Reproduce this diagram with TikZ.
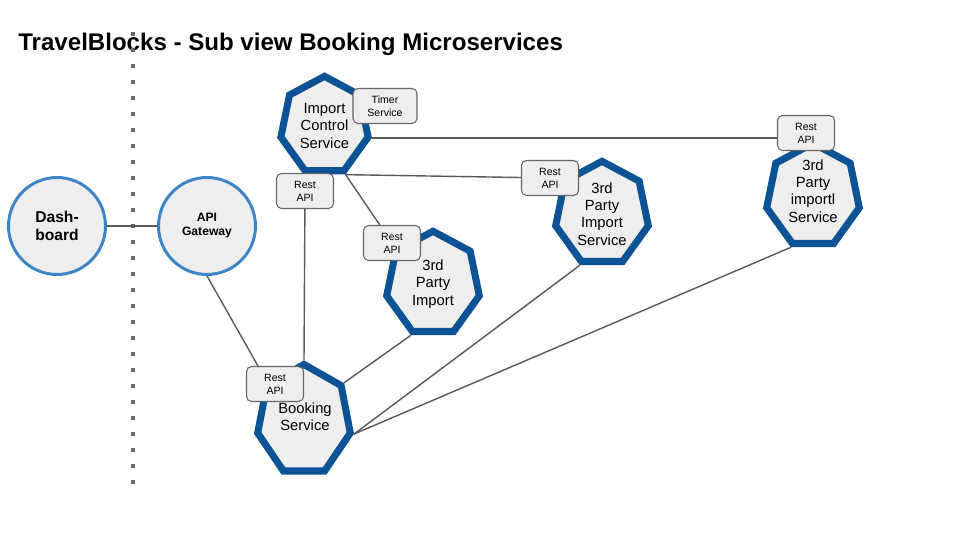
\documentclass[tikz,border=0pt]{standalone}
\usepackage{fontspec}
\setmainfont{Liberation Sans}
\usetikzlibrary{shapes.geometric}
\definecolor{hexblue}{HTML}{0B5394}
\definecolor{ringblue}{HTML}{3D85C6}
\definecolor{boxgray}{HTML}{EEEEEE}
\definecolor{linegray}{HTML}{595959}
\tikzset{
  every picture/.style={line join=round, line cap=round},
  hepta/.style={regular polygon, regular polygon sides=7, draw=hexblue, line width=4pt, line join=miter, fill=boxgray, minimum size=1.9cm, inner sep=0pt},
  hepttext/.style={font=\fontsize{8.4}{9.9}\selectfont, align=center},
  hub/.style={circle, draw=ringblue, line width=1.7pt, fill=boxgray, minimum size=1.94cm, inner sep=0pt, align=center},
  restapi/.style={draw=black!60, line width=0.6pt, fill=boxgray, rounded corners=0.1cm, minimum width=1.14cm, minimum height=0.7cm, inner sep=1pt, font=\fontsize{6}{7.4}\selectfont, align=center},
  link/.style={draw=linegray, line width=0.8pt},
}

\begin{document}
\begin{tikzpicture}
\useasboundingbox (0,0) rectangle (19.2,10.8);
\node[anchor=base west, inner sep=0pt, font=\fontsize{13.7}{16}\selectfont\bfseries] (title) at (0.36,9.78) {TravelBlocks - Sub view Booking Microservices};
% divider
\draw[black!60, line width=0.08cm, line cap=butt, dash pattern=on 0.08cm off 0.24cm] (2.66,10.16) -- (2.66,1.12);
% front side
\node[hub, font=\fontsize{8.9}{10}\selectfont\bfseries] (dash) at (1.14,6.28) {Dash-\\board};
\node[hub, font=\fontsize{6.9}{8}\selectfont\bfseries] (gw) at (4.14,6.28) {API\\Gateway};
% services
\node[hepta, minimum size=1.79cm, yscale=1.11] (ctrl) at (6.49,8.28) {};
\node[hepta, yscale=1.18] (book) at (6.08,2.39) {};
\node[hepta, yscale=1.11] (tpi) at (8.66,5.12) {};
\node[hepta, yscale=1.11] (tpis) at (12.04,6.52) {};
\node[hepta, yscale=1.11] (tpimp) at (16.26,6.88) {};
\node[hepttext] at (ctrl) {Import\\Control\\Service};
\node[hepttext] at (6.1,2.46) {Booking\\Service};
\node[hepttext] at (tpi) {3rd\\Party\\Import};
\node[hepttext] at (tpis) {3rd\\Party\\Import\\Service};
\node[hepttext] at (16.26,6.98) {3rd\\Party\\importl\\Service};
% interfaces
\node[restapi, minimum width=1.28cm] (timer) at (7.7,8.68) {Timer\\Service};
\node[restapi] (ractrl) at (6.1,6.98) {Rest\\API};
\node[restapi] (ratpis) at (11.0,7.24) {Rest\\API};
\node[restapi] (ratpi) at (7.84,5.94) {Rest\\API};
\node[restapi] (raimp) at (16.12,8.14) {Rest\\API};
\node[restapi] (rabook) at (5.5,3.12) {Rest\\API};
% connections
\draw[link] (dash) -- (gw);
\draw[link] (gw.south) -- ([xshift=-0.34cm]rabook.north);
\draw[link] (ractrl) -- (book.corner 1);
\draw[link] (ctrl.corner 6) -- (ctrl.corner 6 -| raimp.west);
\draw[link] (ctrl.corner 5) -- (ratpis);
\draw[link] (ctrl.corner 5) -- (ratpi);
\draw[link] (book.corner 7) -- (tpi.corner 4);
\draw[link] (book.corner 6) -- (tpis.corner 4);
\draw[link] (book.corner 6) -- (tpimp.corner 4);
\end{tikzpicture}
\end{document}
